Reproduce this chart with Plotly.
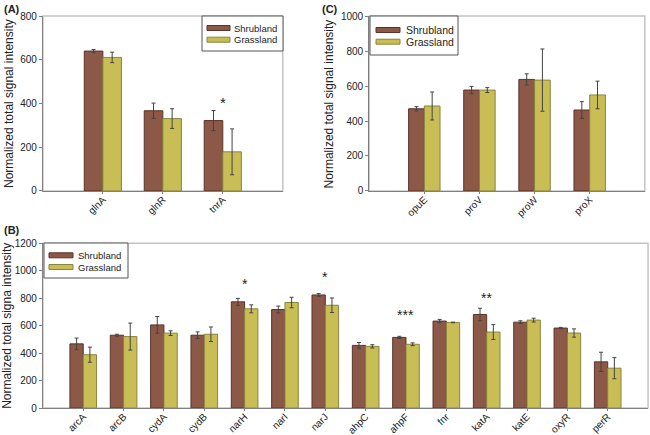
import plotly.graph_objects as go

# (A) nitrogen genes
genes_a = ["glnA", "glnR", "tnrA"]
shrub_a = [640, 367, 322]
shrub_a_err = [7, 35, 46]
grass_a = [611, 331, 179]
grass_a_err = [24, 45, 105]

# (C) osmotic stress genes
genes_c = ["opuE", "proV", "proW", "proX"]
shrub_c = [470, 577, 638, 463]
shrub_c_err = [12, 21, 32, 48]
grass_c = [486, 577, 634, 549]
grass_c_err = [80, 14, 178, 79]

# (B) oxygen related genes
genes_b = ["arcA", "arcB", "cydA", "cydB", "narH", "narI", "narJ",
           "ahpC", "ahpF", "fnr", "katA", "katE", "oxyR", "perR"]
shrub_b = [467, 530, 605, 530, 773, 717, 823, 456, 514, 633, 681, 625, 582, 336]
shrub_b_err = [42, 7, 61, 24, 25, 25, 10, 21, 8, 12, 45, 10, 5, 70]
grass_b = [388, 520, 545, 537, 722, 768, 748, 449, 464, 623, 553, 640, 546, 290]
grass_b_err = [55, 98, 17, 53, 29, 38, 53, 12, 10, 2, 54, 14, 30, 77]

# significance marks: (gene, label, height)
sig_a = [("tnrA", "*", 405)]
sig_b = [("narH", "*", 905), ("narJ", "*", 954), ("ahpF", "***", 674), ("katA", "**", 802)]

series_names = ["Shrubland", "Grassland"]

W, H = 650, 435
SHRUB = "#8c5848"
SHRUB_LINE = "#5a3428"
GRASS = "#c8be55"
GRASS_LINE = "#8a8440"
FILLS = [(SHRUB, SHRUB_LINE), (GRASS, GRASS_LINE)]
FONT = "Liberation Sans, Arial, sans-serif"
TXT = "#222222"

fig = go.Figure()

panels = [
    # genes, shrub, shrub_err, grass, grass_err, axis suffix, bar width
    (genes_a, shrub_a, shrub_a_err, grass_a, grass_a_err, "", 0.31),
    (genes_c, shrub_c, shrub_c_err, grass_c, grass_c_err, "2", 0.285),
    (genes_b, shrub_b, shrub_b_err, grass_b, grass_b_err, "3", 0.33),
]

for genes, sv, se, gv, ge, ax, w in panels:
    fig.add_trace(go.Bar(
        x=genes, y=sv, name=series_names[0], width=w, offset=-w, showlegend=False,
        marker=dict(color=SHRUB, line=dict(color=SHRUB_LINE, width=1)),
        error_y=dict(type="data", array=se, color="#444444", thickness=1, width=2),
        xaxis="x" + ax, yaxis="y" + ax,
    ))
    fig.add_trace(go.Bar(
        x=genes, y=gv, name=series_names[1], width=w, offset=0, showlegend=False,
        marker=dict(color=GRASS, line=dict(color=GRASS_LINE, width=1)),
        error_y=dict(type="data", array=ge, color="#444444", thickness=1, width=2),
        xaxis="x" + ax, yaxis="y" + ax,
    ))

tick_font = dict(family=FONT, size=10, color=TXT)


def xax(domain, n, anchor):
    return dict(domain=domain, anchor=anchor, type="category", range=[-1, n],
                showline=True, linecolor="#808080", linewidth=1,
                ticks="outside", ticklen=2, tickcolor="#808080", automargin=False,
                ticklabelstandoff=-4,
                tickangle=-45, tickfont=tick_font, showgrid=False, zeroline=False)


def yax(domain, top, anchor):
    return dict(domain=domain, anchor=anchor, range=[0, top], dtick=200,
                showline=True, linecolor="#808080", linewidth=1, automargin=False,
                ticks="outside", ticklen=3, tickcolor="#808080",
                tickfont=tick_font, showgrid=False, zeroline=False)


fig.update_layout(
    width=W, height=H,
    margin=dict(l=0, r=0, t=0, b=0, autoexpand=False),
    paper_bgcolor="white", plot_bgcolor="white",
    barmode="overlay", showlegend=False,
    font=dict(family=FONT, color=TXT),
    xaxis=xax([0.066, 0.435], len(genes_a), "y"),
    yaxis=yax([0.561, 0.963], 800, "x"),
    xaxis2=xax([0.568, 0.992], len(genes_c), "y2"),
    yaxis2=yax([0.561, 0.963], 1000, "x2"),
    xaxis3=xax([0.066, 0.997], len(genes_b), "y3"),
    yaxis3=yax([0.062, 0.441], 1200, "x3"),
)


def px(x):
    return x / W


def py(y):
    return 1 - y / H


# light frame around each plot area
for x0, x1, y0, y1 in [(0.066, 0.435, 0.561, 0.963), (0.568, 0.992, 0.561, 0.963),
                       (0.066, 0.997, 0.062, 0.441)]:
    fig.add_shape(type="rect", xref="paper", yref="paper", x0=x0, x1=x1, y0=y0, y1=y1,
                  line=dict(color="#c4c4c4", width=1.5), layer="below")


# boxed legends with long flat swatches, like the original figure
def add_legend(box, rows_y, sw_x, text_x, size):
    fig.add_shape(type="rect", xref="paper", yref="paper",
                  x0=px(box[0]), x1=px(box[2]), y0=py(box[3]), y1=py(box[1]),
                  line=dict(color="#555555", width=1), fillcolor="white")
    for yc, name, (fill, edge) in zip(rows_y, series_names, FILLS):
        fig.add_shape(type="rect", xref="paper", yref="paper",
                      x0=px(sw_x[0]), x1=px(sw_x[1]), y0=py(yc + 2.5), y1=py(yc - 2.5),
                      line=dict(color=edge, width=1), fillcolor=fill)
        fig.add_annotation(x=px(text_x), y=py(yc), xref="paper", yref="paper", text=name,
                           xanchor="left", yanchor="middle", showarrow=False,
                           font=dict(family=FONT, size=size, color=TXT))


add_legend((202, 16, 283, 51), (28, 39.7), (207, 230), 232, 9.5)
add_legend((370, 16, 458, 55), (30, 41.7), (376, 400), 404, 10.5)
add_legend((44, 243, 128, 278), (255.3, 267), (49, 73), 76, 9.5)

# y axis titles
for x, y, text in [(0.013, 0.762, "Normalized total signal intensity"),
                   (0.506, 0.762, "Normalized total signal intensity"),
                   (0.0115, 0.252, "Normalized total signa intensity")]:
    fig.add_annotation(x=x, y=y, xref="paper", yref="paper", text=text, textangle=-90,
                       xanchor="center", yanchor="middle",
                       showarrow=False, font=dict(family=FONT, size=12, color=TXT))

# panel letters
for x, y, text in [(0.003, 0.997, "(A)"), (0.493, 0.997, "(C)"), (0.003, 0.49, "(B)")]:
    fig.add_annotation(x=x, y=y, xref="paper", yref="paper", text="<b>%s</b>" % text,
                       xanchor="left", yanchor="top", showarrow=False,
                       font=dict(family=FONT, size=11, color=TXT))

# significance stars
for gene, label, h in sig_a:
    fig.add_annotation(x=gene, y=h, xref="x", yref="y", text=label, showarrow=False,
                       xanchor="center", yanchor="middle",
                       font=dict(family=FONT, size=15, color=TXT))
for gene, label, h in sig_b:
    fig.add_annotation(x=gene, y=h, xref="x3", yref="y3", text=label, showarrow=False,
                       xanchor="center", yanchor="middle",
                       font=dict(family=FONT, size=14, color=TXT))

# drop the default page margin so the figure fills the window
fig.write_html("out.html", config={"displayModeBar": False},
               post_script="document.body.style.margin='0';")
